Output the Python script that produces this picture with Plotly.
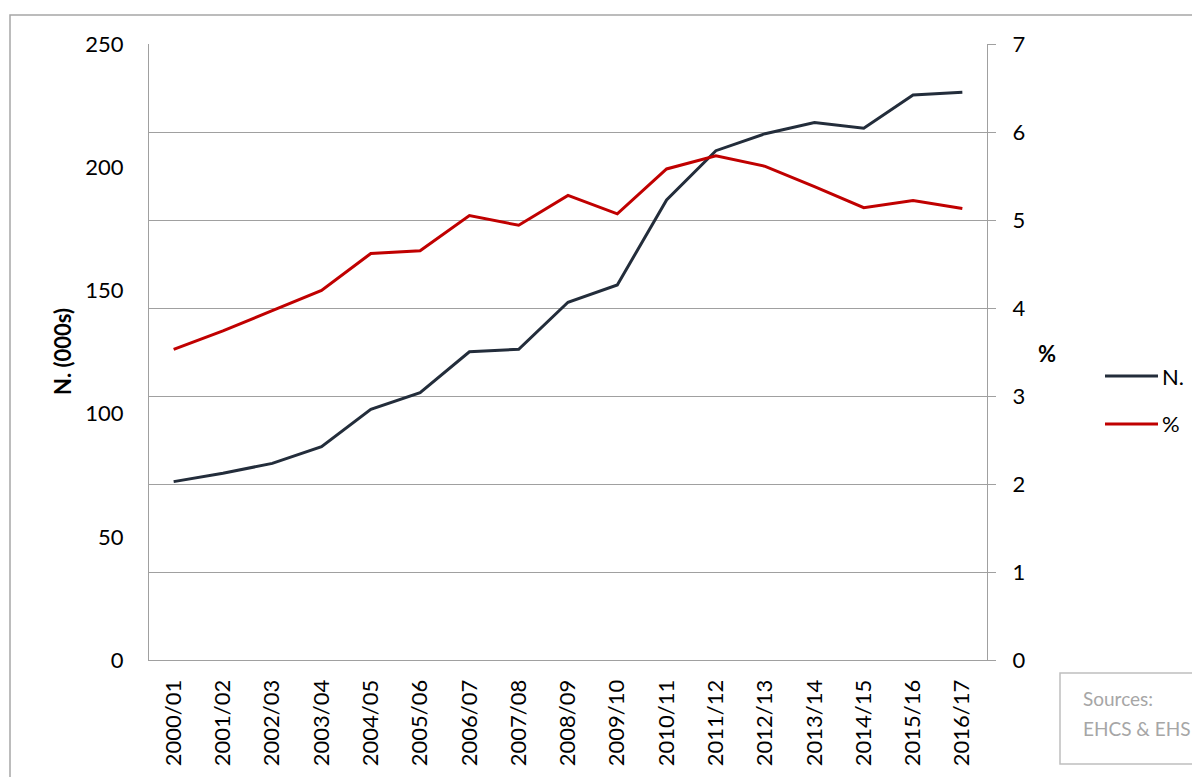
import plotly.graph_objects as go

periods = ["2000/01", "2001/02", "2002/03", "2003/04", "2004/05", "2005/06",
           "2006/07", "2007/08", "2008/09", "2009/10", "2010/11", "2011/12",
           "2012/13", "2013/14", "2014/15", "2015/16", "2016/17"]
n_thousands = [72.4, 75.8, 79.8, 86.6, 101.7, 108.5, 125.1, 126.1, 145.2, 152.2,
               186.7, 206.7, 213.6, 218.1, 215.8, 229.3, 230.4]
pct = [3.53, 3.74, 3.97, 4.20, 4.62, 4.65, 5.05, 4.94, 5.28, 5.07,
       5.58, 5.73, 5.61, 5.38, 5.14, 5.22, 5.13]

series_names = ["N.", "%"]
series_colors = ["#232D3B", "#C00000"]

FONT = "Lato"
GRID = "#A0A0A0"

# the page puts the figure 8px in from the window corner (body margin),
# so everything below is in window pixels and shifted by OFF
OFF = 8
W, H = 1200 - OFF, 777 - OFF
L, R, T, B = 149 - OFF, 987 - OFF, 44 - OFF, 660 - OFF


def px_x(px):
    return (px - OFF - L) / (R - L)


def px_y(py):
    return (B - (py - OFF)) / (B - T)


fig = go.Figure()

fig.add_trace(go.Scatter(
    name=series_names[0], x=periods, y=n_thousands, mode="lines",
    line=dict(color=series_colors[0], width=3), yaxis="y",
))
fig.add_trace(go.Scatter(
    name=series_names[1], x=periods, y=pct, mode="lines",
    line=dict(color=series_colors[1], width=3), yaxis="y2",
))

fig.update_layout(
    width=W, height=H,
    margin=dict(l=L, r=W - R, t=T, b=H - B),
    paper_bgcolor="white", plot_bgcolor="white",
    font=dict(family=FONT, size=22, color="black"),
    showlegend=False,
    xaxis=dict(
        type="category", range=[-0.5, len(periods) - 0.5],
        tickangle=-90, showgrid=False, showline=True, linecolor=GRID,
        linewidth=1, ticks="", zeroline=False, ticklabelstandoff=10,
    ),
    yaxis=dict(
        range=[0, 250], dtick=50, showgrid=False, zeroline=False,
        showline=True, linecolor=GRID, ticks="", ticklabelstandoff=20,
    ),
    yaxis2=dict(
        range=[0, 7], dtick=1, overlaying="y", side="right",
        showgrid=True, gridcolor=GRID, gridwidth=1, zeroline=False,
        showline=True, linecolor=GRID, ticks="outside", ticklen=8,
        tickcolor=GRID, ticklabelstandoff=12,
    ),
)

# legend, drawn by hand so the sample lines are as long as in the original
legend_rows = [376, 424]
for name, color, row in zip(series_names, series_colors, legend_rows):
    fig.add_shape(type="line", xref="paper", yref="paper",
                  x0=px_x(1105), x1=px_x(1158), y0=px_y(row), y1=px_y(row),
                  line=dict(color=color, width=3))
    fig.add_annotation(text=name, xref="paper", yref="paper",
                       x=px_x(1160), y=px_y(row), xanchor="left",
                       yanchor="middle", showarrow=False,
                       font=dict(size=22))

# outer chart frame, running off the right and bottom edges
fig.add_shape(type="rect", xref="paper", yref="paper",
              x0=px_x(10), x1=px_x(1215), y0=px_y(800), y1=px_y(15),
              line=dict(color="#A6A6A6", width=1.5), layer="below")

# sources box
fig.add_shape(type="rect", xref="paper", yref="paper",
              x0=px_x(1060), x1=px_x(1210), y0=px_y(764), y1=px_y(673),
              line=dict(color="#BFBFBF", width=1.5))

fig.add_annotation(text="Sources:", xref="paper", yref="paper",
                   x=px_x(1081), y=px_y(699), xanchor="left", yanchor="middle",
                   showarrow=False, font=dict(size=19, color="#A6A6A6"))
fig.add_annotation(text="EHCS & EHS", xref="paper", yref="paper",
                   x=px_x(1081), y=px_y(728), xanchor="left", yanchor="middle",
                   showarrow=False, font=dict(size=19, color="#A6A6A6"))

# axis titles
fig.add_annotation(text="<b>N. (000s)</b>", xref="paper", yref="paper",
                   x=px_x(62), y=0.5, textangle=-90, xanchor="center",
                   yanchor="middle", showarrow=False, font=dict(size=22))
fig.add_annotation(text="<b>%</b>", xref="paper", yref="paper",
                   x=px_x(1047), y=px_y(353), xanchor="center",
                   yanchor="middle", showarrow=False, font=dict(size=22))

fig.write_html("out.html")
